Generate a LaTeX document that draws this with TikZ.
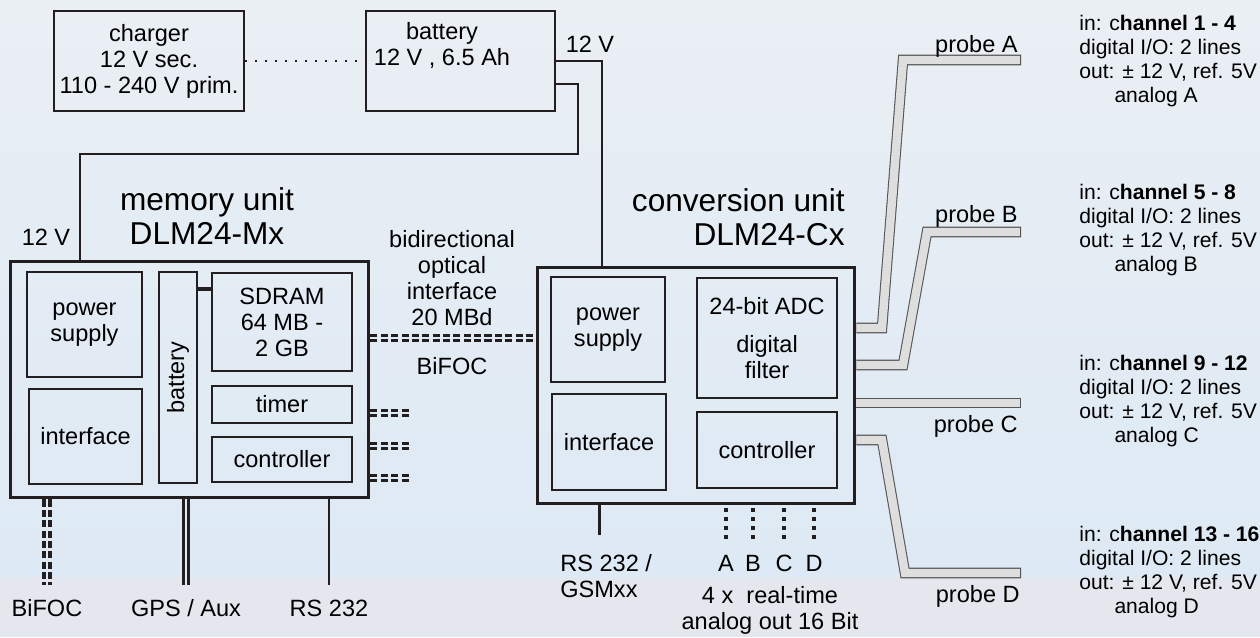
\documentclass[tikz,border=0pt]{standalone}
\usepackage{fontspec}
\setmainfont{Liberation Sans}
\usetikzlibrary{positioning, calc, backgrounds}

\definecolor{ink}{RGB}{35,31,32}
\definecolor{bgtop}{RGB}{234,239,244}
\definecolor{bgmid}{RGB}{221,233,244}
\definecolor{bgbot}{RGB}{228,232,238}
\definecolor{probefill}{RGB}{222,222,222}
\definecolor{probeedge}{RGB}{85,85,85}

\newcommand{\probeband}[1]{\draw[probeout] #1; \draw[probein] #1;}

\begin{document}
\begin{tikzpicture}[x=0.02cm, y=-0.02cm, font=\fontsize{13.4}{14.8}\selectfont,
  unitbox/.style={draw=ink, line width=1.7pt, inner sep=0pt},
  partbox/.style={draw=ink, line width=1.1pt, inner sep=0pt, align=center},
  lbl/.style={inner sep=0pt, align=center},
  title/.style={inner sep=0pt, font=\fontsize{18}{19.5}\selectfont},
  info/.style={inner sep=0pt, anchor=west, align=left, font=\fontsize{12}{13.7}\selectfont},
  wire/.style={draw=ink, line width=0.9pt},
  cable/.style={draw=ink, line width=1.7pt},
  optic/.style={draw=ink, line width=1.7pt, double=bgmid, double distance=1pt, dash pattern=on 4pt off 1.9pt},
  twin/.style={draw=ink, line width=2pt, double=bgmid, double distance=1pt},
  dotline/.style={draw=ink, line width=1.8pt, dash pattern=on 1.8pt off 3.3pt},
  probeout/.style={draw=probeedge, line width=6pt, line join=miter},
  probein/.style={draw=probefill, line width=4.8pt, line join=miter, shorten >=0.6pt}]

\begin{scope}[on background layer]
\shade[top color=bgtop, bottom color=bgmid] (0,0) rectangle (1260,577);
\fill[bgbot] (0,577) rectangle (1260,637);
\end{scope}
\useasboundingbox (0,0) rectangle (1260,637);

\node[partbox, minimum width=3.8cm, minimum height=2cm] (charger) at (149,61) {charger\\12 V sec.\\110 - 240 V prim.};
\node[partbox, minimum width=3.78cm, minimum height=2cm] (battery) at (460.5,61) {};
\node[lbl] (battxt) at (442,45) {battery\\12 V , 6.5 Ah};
\node[lbl] (v12a) at (590,44) {12 V};
\node[lbl] (v12b) at (46,237) {12 V};

% memory unit
\node[unitbox, minimum width=7.18cm, minimum height=4.74cm] (mem) at (189.5,379.5) {};
\node[title, align=center] (memtitle) at (207,216) {memory unit\\DLM24-Mx};
\node[partbox, minimum width=2.3cm, minimum height=2.1cm] (mempower) at (84.5,324.5) {power\\supply};
\node[partbox, minimum width=2.26cm, minimum height=1.9cm] (memiface) at (85.5,436.5) {interface};
\node[partbox, minimum width=0.76cm, minimum height=4.22cm] (membat) at (178,377.5) {};
\node[lbl, rotate=90] (membattxt) at (membat) {battery};
\node[partbox, minimum width=2.8cm, minimum height=1.96cm] (sdram) at (282,322) {SDRAM\\64 MB -\\2 GB};
\node[partbox, minimum width=2.8cm, minimum height=0.74cm] (timer) at (282,404.5) {timer};
\node[partbox, minimum width=2.8cm, minimum height=0.9cm] (memctrl) at (282,459.5) {controller};
\draw[ink, line width=2.4pt] (membat.east |- 0,289) -- (sdram.west |- 0,289);

% conversion unit
\node[unitbox, minimum width=6.36cm, minimum height=4.74cm] (conv) at (696,385.5) {};
\node[title, anchor=east, align=right] (convtitle) at (845,217) {conversion unit\\DLM24-Cx};
\node[partbox, minimum width=2.28cm, minimum height=2.1cm] (convpower) at (608,329.5) {power\\supply};
\node[partbox, minimum width=2.28cm, minimum height=1.92cm] (conviface) at (609,442) {interface};
\node[partbox, minimum width=2.8cm, minimum height=2.4cm] (adc) at (767,338) {24-bit ADC\\[7pt]digital\\filter};
\node[partbox, minimum width=2.8cm, minimum height=1.52cm] (convctrl) at (767,450) {controller};

% power wiring
\draw[wire, dash pattern=on 0.9pt off 4.8pt] (charger.east) -- (battery.west);
\draw[wire] (battery.east) -- (602,61) -- (602,0 |- conv.north);
\draw[wire] (battery.east |- 0,84) -- (578,84) -- (578,154) -- (80,154) -- (80,0 |- mem.north);

% optical link
\draw[optic] (mem.east |- 0,338) -- (conv.west |- 0,338);
\node[lbl] (optxt) at (452,278) {bidirectional\\optical\\interface\\20 MBd};
\node[lbl] (bifocmid) at (452,366) {BiFOC};
\foreach \y in {413,446,478}
  \draw[optic] (mem.east |- 0,\y) -- (411,\y);

% memory unit ports
\draw[optic, line width=2.1pt, double distance=1.2pt] (mem.south -| 47,0) -- (47,585);
\draw[twin] (mem.south -| 186,0) -- (186,585);
\draw[cable] (mem.south -| 329,0) -- (329,585);
\node[lbl] (bifoc) at (47,608) {BiFOC};
\node[lbl] (gps) at (186,608) {GPS / Aux};
\node[lbl] (rsmem) at (329,608) {RS 232};

% conversion unit ports
\draw[cable] (conv.south -| 599,0) -- (599,535);
\node[lbl, anchor=west, align=left] (rsconv) at (560,576) {RS 232 /\\GSMxx};
\foreach \x/\l in {726/A, 753/B, 784/C, 814/D} {
  \draw[dotline] (conv.south -| \x,0) ++(0,3) -- (\x,541);
  \node[lbl] (out\l) at (\x,563) {\l};
}
\node[lbl] (analogout) at (770,610) {4 x~ real-time\\analog out 16 Bit};

% probes
\begin{scope}[on background layer]
\probeband{(conv.east |- 0,328) -- (882,328) -- (903,60) -- (1021,60)}
\probeband{(conv.east |- 0,365) -- (903,365) -- (927,232) -- (1021,232)}
\probeband{(conv.east |- 0,403) -- (1021,403)}
\probeband{(conv.east |- 0,440) -- (882,440) -- (905,573) -- (1021,573)}
\end{scope}
\node[lbl, anchor=base east] (probeA) at (1018,52) {probe A};
\node[lbl, anchor=base east] (probeB) at (1018,222) {probe B};
\node[lbl, anchor=base east] (probeC) at (1018,432) {probe C};
\node[lbl, anchor=base east] (probeD) at (1020,602) {probe D};

\foreach \ch/\rng/\y in {A/1 - 4/61, B/5 - 8/230, C/9 - 12/401, D/13 - 16/572}
  \node[info] (info\ch) at (1079,\y) {in: c\textbf{hannel \rng}\\digital I/O: 2 lines\\out: ± 12 V, ref. 5V\\\hspace*{20pt}analog \ch};

\end{tikzpicture}
\end{document}
